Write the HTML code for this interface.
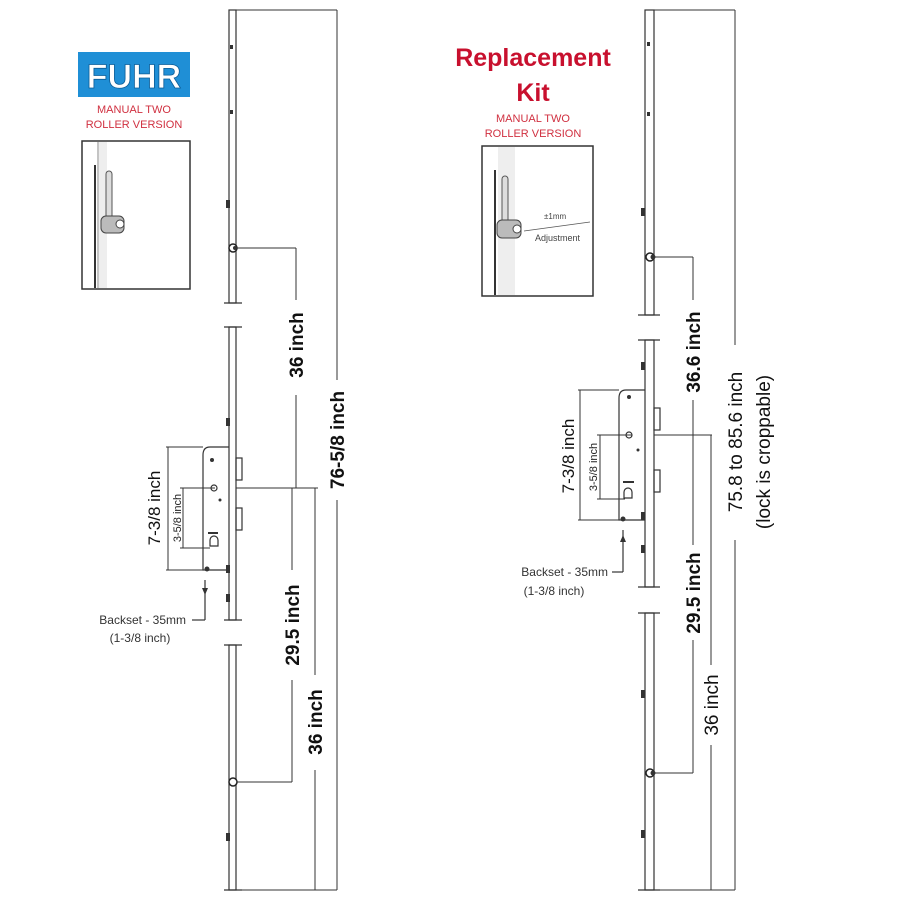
<!DOCTYPE html>
<html><head><meta charset="utf-8"><style>
html,body{margin:0;padding:0;background:#fff;}
svg{display:block;}
text{font-family:"Liberation Sans",sans-serif;}
</style></head><body>
<svg width="900" height="900" viewBox="0 0 900 900" xmlns="http://www.w3.org/2000/svg">
<rect width="900" height="900" fill="#fff"/>

<!-- ================= LEFT ================= -->
<!-- FUHR logo -->
<rect x="78" y="52" width="112" height="45" fill="#1f8fd6"/>
<text x="134" y="88" font-size="34" font-weight="bold" fill="#fff" text-anchor="middle" stroke="#0b5c96" stroke-width="0.8">FUHR</text>
<text x="134" y="113" font-size="11" fill="#d03040" text-anchor="middle">MANUAL TWO</text>
<text x="134" y="128" font-size="11" fill="#d03040" text-anchor="middle">ROLLER VERSION</text>
<!-- inset -->
<rect x="82" y="141" width="108" height="148" fill="#fff" stroke="#333" stroke-width="1.5"/>
<rect x="97" y="142" width="10" height="146" fill="#eee"/>
<line x1="95" y1="165" x2="95" y2="288" stroke="#333" stroke-width="2"/>
<line x1="98" y1="142" x2="98" y2="288" stroke="#999" stroke-width="1"/>
<rect x="106" y="171" width="6" height="50" rx="3" fill="#ddd" stroke="#555"/>
<rect x="101" y="216" width="23" height="17" rx="5" fill="#bbb" stroke="#444"/>
<circle cx="120" cy="224" r="4" fill="#fff" stroke="#444"/>

<g stroke="#333" fill="none" stroke-width="1.2">
<!-- bar segments -->
<rect x="229" y="10" width="7" height="293"/>
<rect x="229" y="327" width="7" height="293"/>
<rect x="229" y="645" width="7" height="245"/>
<line x1="224" y1="303" x2="242" y2="303"/><line x1="224" y1="327" x2="242" y2="327"/>
<line x1="224" y1="620" x2="242" y2="620"/><line x1="224" y1="645" x2="242" y2="645"/>
<line x1="224" y1="890" x2="242" y2="890"/>
<!-- lock case -->
<path d="M229 447 H210 Q203 447 203 455 V570 H229"/>
<rect x="236" y="458" width="6" height="22"/>
<rect x="236" y="508" width="6" height="22"/>
<!-- top dims -->
<line x1="236" y1="10" x2="337" y2="10" stroke-width="1"/>
<line x1="337" y1="10" x2="337" y2="380" stroke-width="1"/>
<line x1="337" y1="500" x2="337" y2="890" stroke-width="1"/>
<line x1="236" y1="890" x2="337" y2="890" stroke-width="1"/>
<line x1="236" y1="248" x2="296" y2="248" stroke-width="1"/>
<line x1="296" y1="248" x2="296" y2="300" stroke-width="1"/>
<line x1="296" y1="395" x2="296" y2="488" stroke-width="1"/>
<line x1="236" y1="488" x2="318" y2="488" stroke-width="1"/>
<line x1="292" y1="488" x2="292" y2="570" stroke-width="1"/>
<line x1="292" y1="680" x2="292" y2="782" stroke-width="1"/>
<line x1="236" y1="782" x2="292" y2="782" stroke-width="1"/>
<line x1="315" y1="488" x2="315" y2="675" stroke-width="1"/>
<line x1="315" y1="770" x2="315" y2="890" stroke-width="1"/>
<!-- lock dims -->
<line x1="166" y1="447" x2="203" y2="447" stroke-width="1"/>
<line x1="166" y1="570" x2="203" y2="570" stroke-width="1"/>
<line x1="168" y1="447" x2="168" y2="570" stroke-width="1"/>
<line x1="180" y1="488" x2="215" y2="488" stroke-width="1"/>
<line x1="180" y1="548" x2="210" y2="548" stroke-width="1"/>
<line x1="183" y1="488" x2="183" y2="548" stroke-width="1"/>
<!-- lock internals -->
<circle cx="214" cy="488" r="3"/>
<path d="M210 540 a4 4 0 1 1 8 0 v6 h-8z"/>
<line x1="208" y1="533" x2="218" y2="533" stroke-width="2"/>
<!-- backset -->
<line x1="205" y1="580" x2="205" y2="620"/>
<line x1="192" y1="620" x2="205" y2="620"/>
</g>
<!-- small hardware -->
<g fill="#333">
<circle cx="233" cy="248" r="4" fill="#fff" stroke="#222" stroke-width="1.5"/>
<circle cx="235" cy="248" r="2"/>
<rect x="226" y="200" width="4" height="8"/><rect x="226" y="418" width="4" height="8"/>
<rect x="226" y="565" width="4" height="8"/><rect x="226" y="594" width="4" height="8"/>
<rect x="226" y="833" width="4" height="8"/><rect x="230" y="45" width="3" height="4"/><rect x="230" y="110" width="3" height="4"/>
<circle cx="233" cy="782" r="4" fill="#fff" stroke="#222" stroke-width="1.5"/>
<circle cx="212" cy="460" r="2"/><circle cx="207" cy="569" r="2.5"/><circle cx="220" cy="500" r="1.5"/>
<polygon points="205,595 202,588 208,588"/>
</g>
<g font-weight="bold" font-size="19" fill="#111">
<text transform="translate(303,345) rotate(-90)" text-anchor="middle">36 inch</text>
<text transform="translate(344,440) rotate(-90)" text-anchor="middle">76-5/8 inch</text>
<text transform="translate(299,625) rotate(-90)" text-anchor="middle">29.5 inch</text>
<text transform="translate(322,722) rotate(-90)" text-anchor="middle">36 inch</text>
<text transform="translate(160,508) rotate(-90)" text-anchor="middle" font-weight="normal" font-size="17">7-3/8 inch</text>
</g>
<text transform="translate(181,518) rotate(-90)" text-anchor="middle" font-size="11" fill="#222">3-5/8 inch</text>
<text x="186" y="624" font-size="12" fill="#333" text-anchor="end">Backset - 35mm</text>
<text x="140" y="642" font-size="12" fill="#333" text-anchor="middle">(1-3/8 inch)</text>

<!-- ================= RIGHT ================= -->
<text x="533" y="66" font-size="25" font-weight="bold" fill="#c8102e" text-anchor="middle">Replacement</text>
<text x="533" y="101" font-size="25" font-weight="bold" fill="#c8102e" text-anchor="middle">Kit</text>
<text x="533" y="122" font-size="11" fill="#d03040" text-anchor="middle">MANUAL TWO</text>
<text x="533" y="137" font-size="11" fill="#d03040" text-anchor="middle">ROLLER VERSION</text>
<rect x="482" y="146" width="111" height="150" fill="#fff" stroke="#333" stroke-width="1.5"/>
<rect x="498" y="147" width="17" height="148" fill="#eee"/>
<line x1="495" y1="170" x2="495" y2="295" stroke="#333" stroke-width="2"/>
<rect x="502" y="176" width="6" height="50" rx="3" fill="#ddd" stroke="#555"/>
<rect x="497" y="220" width="24" height="18" rx="5" fill="#bbb" stroke="#444"/>
<circle cx="517" cy="229" r="4" fill="#fff" stroke="#444"/>
<line x1="524" y1="231" x2="590" y2="222" stroke="#555" stroke-width="0.8"/>
<text x="544" y="219" font-size="8" fill="#444">±1mm</text>
<text x="535" y="241" font-size="9" fill="#444">Adjustment</text>

<g stroke="#333" fill="none" stroke-width="1.2">
<rect x="645" y="10" width="9" height="305"/>
<rect x="645" y="340" width="9" height="247"/>
<rect x="645" y="613" width="9" height="277"/>
<line x1="638" y1="315" x2="660" y2="315"/><line x1="638" y1="340" x2="660" y2="340"/>
<line x1="638" y1="587" x2="660" y2="587"/><line x1="638" y1="613" x2="660" y2="613"/>
<line x1="638" y1="890" x2="660" y2="890"/>
<path d="M645 390 H626 Q619 390 619 398 V520 H645"/>
<rect x="654" y="408" width="6" height="22"/>
<rect x="654" y="470" width="6" height="22"/>
<line x1="654" y1="10" x2="735" y2="10" stroke-width="1"/>
<line x1="735" y1="10" x2="735" y2="345" stroke-width="1"/>
<line x1="735" y1="540" x2="735" y2="890" stroke-width="1"/>
<line x1="654" y1="890" x2="735" y2="890" stroke-width="1"/>
<line x1="654" y1="257" x2="693" y2="257" stroke-width="1"/>
<line x1="693" y1="257" x2="693" y2="300" stroke-width="1"/>
<line x1="693" y1="400" x2="693" y2="435" stroke-width="1"/>
<line x1="654" y1="435" x2="712" y2="435" stroke-width="1"/>
<line x1="693" y1="435" x2="693" y2="545" stroke-width="1"/>
<line x1="693" y1="640" x2="693" y2="773" stroke-width="1"/>
<line x1="654" y1="773" x2="693" y2="773" stroke-width="1"/>
<line x1="711" y1="435" x2="711" y2="665" stroke-width="1"/>
<line x1="711" y1="745" x2="711" y2="890" stroke-width="1"/>
<line x1="578" y1="390" x2="619" y2="390" stroke-width="1"/>
<line x1="578" y1="520" x2="619" y2="520" stroke-width="1"/>
<line x1="580" y1="390" x2="580" y2="520" stroke-width="1"/>
<line x1="597" y1="435" x2="632" y2="435" stroke-width="1"/>
<line x1="597" y1="499" x2="625" y2="499" stroke-width="1"/>
<line x1="600" y1="435" x2="600" y2="499" stroke-width="1"/>
<circle cx="629" cy="435" r="3"/>
<path d="M624 492 a4 4 0 1 1 8 0 v6 h-8z"/>
<line x1="623" y1="482" x2="634" y2="482" stroke-width="2"/>
<line x1="623" y1="530" x2="623" y2="572"/>
<line x1="612" y1="572" x2="623" y2="572"/>
</g>
<g fill="#333">
<circle cx="650" cy="257" r="4" fill="#fff" stroke="#222" stroke-width="1.5"/>
<circle cx="653" cy="257" r="2.5"/>
<rect x="641" y="208" width="4" height="8"/><rect x="641" y="362" width="4" height="8"/>
<rect x="641" y="512" width="4" height="8"/><rect x="641" y="545" width="4" height="8"/>
<rect x="641" y="690" width="4" height="8"/><rect x="641" y="830" width="4" height="8"/>
<rect x="647" y="42" width="3" height="4"/><rect x="647" y="112" width="3" height="4"/>
<circle cx="650" cy="773" r="4" fill="#fff" stroke="#222" stroke-width="1.5"/>
<circle cx="653" cy="773" r="2.5"/>
<circle cx="629" cy="397" r="2"/><circle cx="623" cy="519" r="2.5"/><circle cx="638" cy="450" r="1.5"/>
<polygon points="623,535 620,542 626,542"/>
</g>
<g font-weight="bold" font-size="19" fill="#111">
<text transform="translate(700,352) rotate(-90)" text-anchor="middle">36.6 inch</text>
<text transform="translate(700,593) rotate(-90)" text-anchor="middle">29.5 inch</text>
<text transform="translate(718,705) rotate(-90)" text-anchor="middle" font-weight="normal">36 inch</text>
<text transform="translate(742,442) rotate(-90)" text-anchor="middle" font-weight="normal">75.8 to 85.6 inch</text>
<text transform="translate(770,452) rotate(-90)" text-anchor="middle" font-weight="normal">(lock is croppable)</text>
<text transform="translate(574,456) rotate(-90)" text-anchor="middle" font-weight="normal" font-size="17">7-3/8 inch</text>
</g>
<text transform="translate(597,467) rotate(-90)" text-anchor="middle" font-size="11" fill="#222">3-5/8 inch</text>
<text x="608" y="576" font-size="12" fill="#333" text-anchor="end">Backset - 35mm</text>
<text x="554" y="595" font-size="12" fill="#333" text-anchor="middle">(1-3/8 inch)</text>
</svg>
</body></html>
